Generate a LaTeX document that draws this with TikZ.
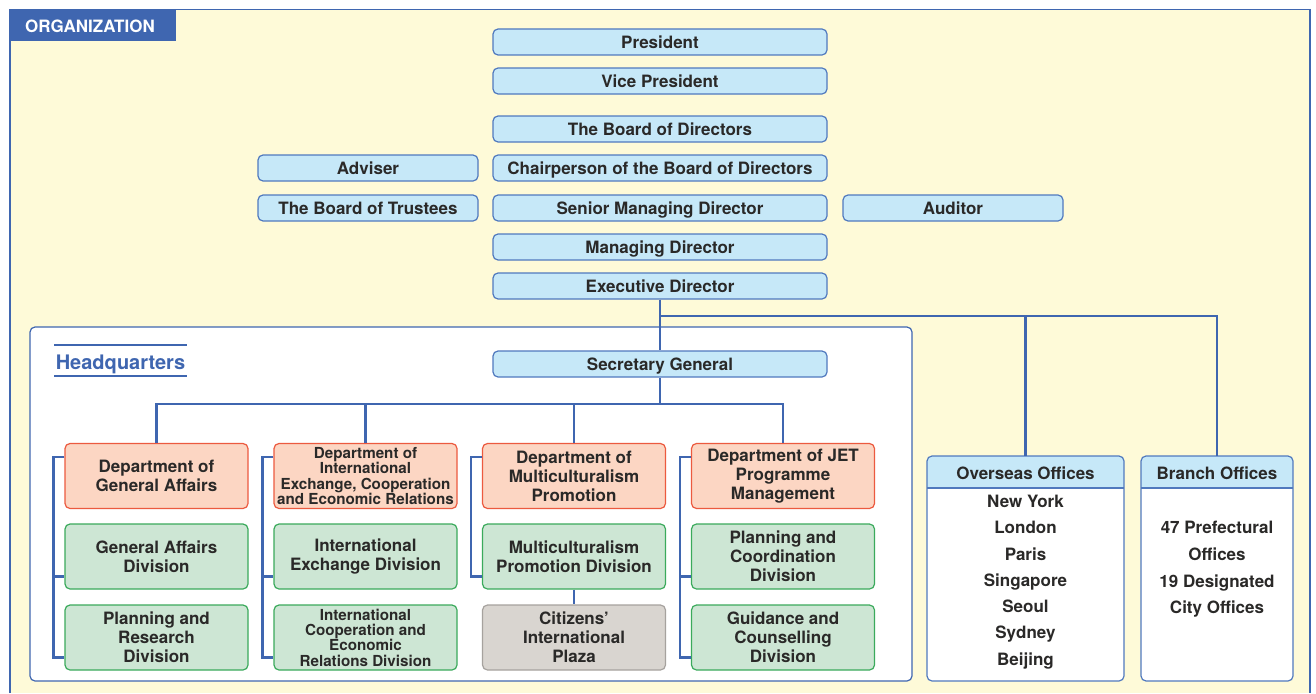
\documentclass[tikz,border=0pt]{standalone}
\usepackage{fontspec}
\setmainfont{TeX Gyre Heros}
\definecolor{cream}{HTML}{FEFAD8}
\definecolor{orgblue}{HTML}{3F66B0}
\definecolor{boxfill}{HTML}{C6E8F8}
\definecolor{boxline}{HTML}{5079BE}
\definecolor{deptfill}{HTML}{FCD6C3}
\definecolor{deptline}{HTML}{EC5A3F}
\definecolor{divfill}{HTML}{CDE6D4}
\definecolor{divline}{HTML}{3BAA5C}
\definecolor{plazafill}{HTML}{D9D5D0}
\definecolor{plazaline}{HTML}{A6A29E}
\definecolor{txtgrey}{HTML}{2A2928}
\begin{document}
\begin{tikzpicture}[x=1pt,y=-1pt,
    every node/.style={font=\bfseries\fontsize{17}{19}\selectfont, text=txtgrey},
    capline/.style={text height=13pt, text depth=0.8pt},
    topbox/.style={draw=boxline, fill=boxfill, rounded corners=5pt, line width=1.2pt,
      minimum width=334pt, minimum height=26pt, inner sep=0pt, capline},
    sidebox/.style={topbox, minimum width=220pt},
    deptbox/.style={draw=deptline, fill=deptfill, rounded corners=5pt, line width=1.2pt,
      minimum width=183pt, minimum height=65pt, inner sep=0pt, align=center},
    divbox/.style={deptbox, draw=divline, fill=divfill},
    plazabox/.style={deptbox, draw=plazaline, fill=plazafill},
    small/.style={font=\bfseries\fontsize{15.2}{15.3}\selectfont},
    officebox/.style={draw=boxline, fill=white, rounded corners=5pt, line width=1.2pt,
      inner sep=0pt, outer sep=0pt, minimum height=225pt,
      path picture={
        \fill[boxfill, sharp corners] (path picture bounding box.north west)
          rectangle ([yshift=-32pt]path picture bounding box.north east);
        \draw[boxline, line width=1.2pt, sharp corners]
          ([yshift=-32pt]path picture bounding box.north west)
          -- ([yshift=-32pt]path picture bounding box.north east);
      }},
    conn/.style={draw=orgblue, line width=2.4pt},
    hqrule/.style={draw=orgblue, line width=1.3pt}
  ]
  \useasboundingbox (0,0) rectangle (1316,693);

  % frame and tab
  \fill[cream] (10,9.5) rectangle (1310,693);
  \draw[orgblue, line width=1.4pt] (10,693) -- (10,9.5) -- (1310,9.5) -- (1310,693);
  \fill[orgblue] (10,9.5) rectangle (176,41.5);
  \node[text=white, capline] (org) at (90,26) {ORGANIZATION};

  % top management
  \node[topbox] (pres) at (660,42) {President};
  \node[topbox] (vice) at (660,81) {Vice President};
  \node[topbox] (board) at (660,129) {The Board of Directors};
  \node[topbox] (chair) at (660,168) {Chairperson of the Board of Directors};
  \node[topbox] (senior) at (660,208) {Senior Managing Director};
  \node[topbox] (managing) at (660,247) {Managing Director};
  \node[topbox] (exec) at (660,286) {Executive Director};
  \node[sidebox] (adviser) at (368,168) {Adviser};
  \node[sidebox] (trustees) at (368,208) {The Board of Trustees};
  \node[sidebox] (auditor) at (953,208) {Auditor};

  % headquarters
  \draw[orgblue, line width=1.2pt, fill=white, rounded corners=5pt] (30,327) rectangle (912,681);
  \node[text=orgblue, font=\bfseries\fontsize{20}{22}\selectfont,
    inner xsep=1.5pt, inner ysep=0pt, anchor=base] (hq) at (120.5,369) {Headquarters};
  \draw[hqrule] ([yshift=24pt]hq.base west) -- ([yshift=24pt]hq.base east);
  \draw[hqrule] ([yshift=-7pt]hq.base west) -- ([yshift=-7pt]hq.base east);

  \node[topbox] (secgen) at (660,364) {Secretary General};

  \node[deptbox] (d1) at (156.5,476) {Department of\\General Affairs};
  \node[deptbox, small] (d2) at (365.5,476) {Department of\\International\\Exchange, Cooperation\\and Economic Relations};
  \node[deptbox] (d3) at (574,476) {Department of\\Multiculturalism\\Promotion};
  \node[deptbox] (d4) at (783,476) {Department of JET\\Programme\\Management};

  \node[divbox] (d1b) at (156.5,556.5) {General Affairs\\Division};
  \node[divbox] (d2b) at (365.5,556.5) {International\\Exchange Division};
  \node[divbox] (d3b) at (574,556.5) {Multiculturalism\\Promotion Division};
  \node[divbox] (d4b) at (783,556.5) {Planning and\\Coordination\\Division};

  \node[divbox] (d1c) at (156.5,637.5) {Planning and\\Research\\Division};
  \node[divbox, small] (d2c) at (365.5,637.5) {International\\Cooperation and\\Economic\\Relations Division};
  \node[plazabox] (d3c) at (574,637.5) {Citizens'\\International\\Plaza};
  \node[divbox] (d4c) at (783,637.5) {Guidance and\\Counselling\\Division};

  % offices
  \node[officebox, minimum width=197pt] (ovs) at (1025.5,568.5) {};
  \node[capline] (ovshead) at ([yshift=-17pt]ovs.north) {Overseas Offices};
  \foreach \city [count=\k] in {New York, London, Paris, Singapore, Seoul, Sydney, Beijing}
    \node[capline] (city\k) at (1025.5,475+26.3*\k) {\city};

  \node[officebox, minimum width=152pt] (branch) at (1217,568.5) {};
  \node[capline] (branchhead) at ([yshift=-17pt]branch.north) {Branch Offices};
  \node[align=center, font=\bfseries\fontsize{17}{26.7}\selectfont] (branchlist) at (1217,569.5)
    {47 Prefectural\\Offices\\19 Designated\\City Offices};

  % connectors
  \coordinate (hub) at (660,316);
  \coordinate (deptbar) at (660,404);
  \draw[conn] (exec.south) -- (secgen.north);
  \draw[conn] (hub) -| (ovs.north);
  \draw[conn] (hub) -| (branch.north);
  \draw[conn] (secgen.south) -- (deptbar);
  \foreach \i in {1,...,4}
    \draw[conn] (deptbar) -| (d\i.north);
  \foreach \i in {1,2,4} {
    \draw[conn] ([yshift=-14pt]d\i.north west) -- ++(-11,0) |- ([yshift=13pt]d\i c.south west);
    \draw[conn] ([xshift=-11pt,yshift=13pt]d\i b.south west) -- ([yshift=13pt]d\i b.south west);
  }
  \draw[conn] ([yshift=-14pt]d3.north west) -- ++(-11,0) |- ([yshift=13pt]d3b.south west);
  \draw[conn] (d3b.south) -- (d3c.north);
\end{tikzpicture}
\end{document}
